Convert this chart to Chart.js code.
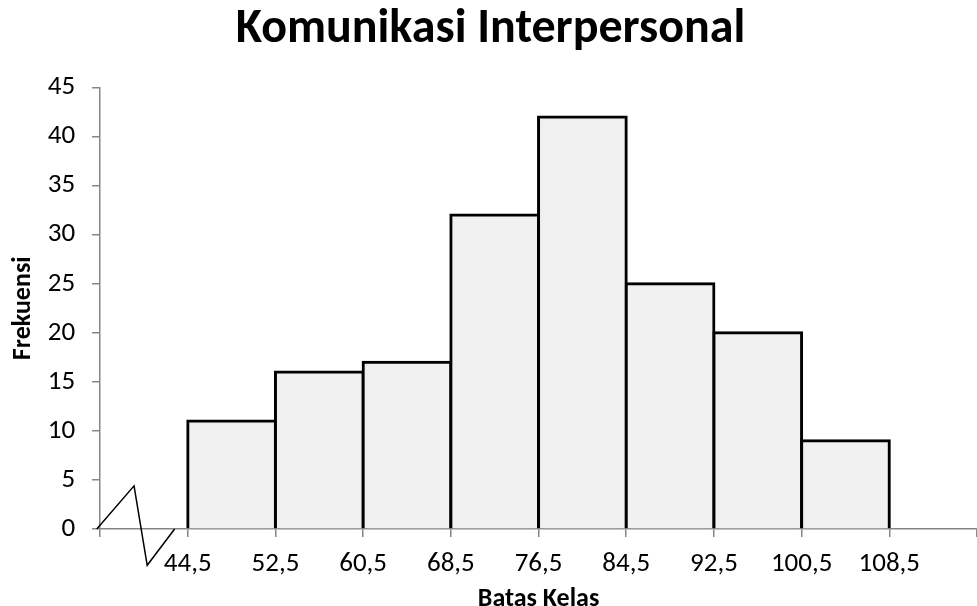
<!DOCTYPE html>
<html>
<head>
<meta charset="utf-8">
<script src="https://cdn.jsdelivr.net/npm/chart.js@4.4.1/dist/chart.umd.min.js"></script>
<style>
  html, body { margin: 0; padding: 0; background: #ffffff; overflow: hidden; }
  #wrap { width: 977px; height: 606px; }
</style>
</head>
<body>
<div id="wrap"><canvas id="c" width="977" height="606"></canvas></div>
<script>
// ---- data ----
const chartTitle = "Komunikasi Interpersonal";
const xAxisTitle = "Batas Kelas";
const yAxisTitle = "Frekuensi";
// class boundaries (tick positions) and their printed labels
const boundaryValues = [36.5, 44.5, 52.5, 60.5, 68.5, 76.5, 84.5, 92.5, 100.5, 108.5, 116.5];
const boundaryLabels = ["", "44,5", "52,5", "60,5", "68,5", "76,5", "84,5", "92,5", "100,5", "108,5", ""];
// frequencies of the classes 44,5-52,5 ... 100,5-108,5
const frequencies = [11, 16, 17, 32, 42, 25, 20, 9];
// axis-break zigzag drawn near the origin
const breakX = [36.2, 39.6, 40.8, 43.3];
const breakY = [0, 4.4, -3.7, 0];
const yTicks = [0, 5, 10, 15, 20, 25, 30, 35, 40, 45];

const FONT = "Carlito, Lato, 'Open Sans', sans-serif";
const AXIS_GRAY = "#868686";

const barData = frequencies.map((f, i) => ({
  x: (boundaryValues[i + 1] + boundaryValues[i + 2]) / 2,
  y: f
}));
const breakData = breakX.map((x, i) => ({ x: x, y: breakY[i] }));

new Chart(document.getElementById('c'), {
  type: 'bar',
  data: {
    datasets: [
      {
        type: 'bar',
        data: barData,
        backgroundColor: '#f0f0f0',
        borderColor: '#000000',
        borderWidth: 3,
        inflateAmount: 1.5,
        barPercentage: 1,
        categoryPercentage: 1
      },
      {
        type: 'line',
        data: breakData,
        borderColor: '#000000',
        borderWidth: 1.5,
        pointRadius: 0,
        tension: 0,
        fill: false,
        clip: false
      }
    ]
  },
  options: {
    responsive: false,
    animation: false,
    events: [],
    layout: { padding: { left: 4, right: 0, top: 0, bottom: 2 } },
    plugins: {
      legend: { display: false },
      tooltip: { enabled: false },
      title: {
        display: true,
        text: chartTitle,
        color: '#000000',
        font: { family: FONT, size: 48, weight: 'bold' },
        padding: { top: 1, bottom: 29 }
      }
    },
    scales: {
      x: {
        type: 'linear',
        offset: false,
        min: boundaryValues[0],
        max: boundaryValues[boundaryValues.length - 1],
        z: 1,
        afterBuildTicks: (axis) => { axis.ticks = boundaryValues.map(v => ({ value: v })); },
        afterFit: (axis) => { axis.paddingRight = 0; },
        ticks: {
          autoSkip: false,
          maxRotation: 0,
          minRotation: 0,
          padding: 11,
          color: '#000000',
          font: { family: FONT, size: 27 },
          callback: (value) => {
            const i = boundaryValues.findIndex(b => Math.abs(b - value) < 1e-6);
            return i >= 0 ? boundaryLabels[i] : '';
          }
        },
        grid: { offset: false, drawOnChartArea: false, drawTicks: true, tickLength: 8, color: AXIS_GRAY, lineWidth: 1.5 },
        border: { display: true, color: AXIS_GRAY, width: 1.5 },
        title: {
          display: true,
          text: xAxisTitle,
          color: '#000000',
          font: { family: FONT, size: 26, weight: 'bold', lineHeight: 1 },
          padding: { top: -5.4, bottom: -8 }
        }
      },
      y: {
        type: 'linear',
        min: 0,
        max: 45,
        afterBuildTicks: (axis) => { axis.ticks = yTicks.map(v => ({ value: v })); },
        ticks: {
          padding: 17,
          color: '#000000',
          font: { family: FONT, size: 27 }
        },
        grid: { drawOnChartArea: false, drawTicks: true, tickLength: 8, color: AXIS_GRAY, lineWidth: 1.5 },
        border: { display: true, color: AXIS_GRAY, width: 1.5 },
        title: {
          display: true,
          text: yAxisTitle,
          color: '#000000',
          font: { family: FONT, size: 26, weight: 'bold' },
          padding: { top: 4, bottom: -8.5 }
        }
      }
    }
  }
});
</script>
</body>
</html>
